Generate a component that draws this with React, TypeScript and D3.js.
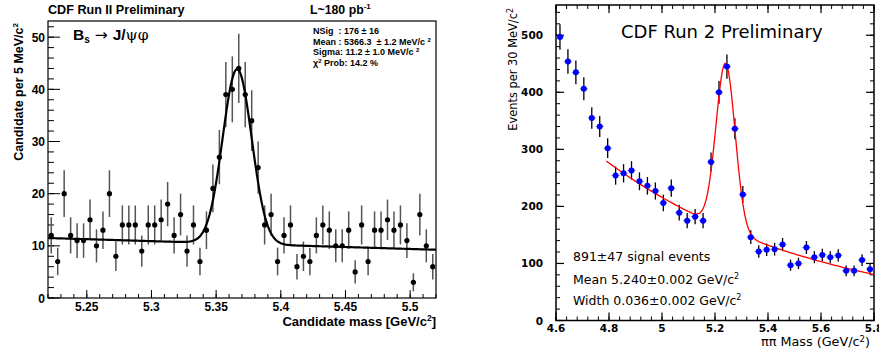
import React from "react";
import * as d3 from "d3";

// ---------- Left panel data (Bs -> J/psi phi), 5 MeV bins from 5.22 to 5.52 ----------
const leftRange = [5.22, 5.52];
const leftBinWidth = 0.005;
const leftCounts = [
  12, 7, 20, 12, 11, 11, 15, 10, 13, 20,
  8, 14, 14, 14, 9, 14, 14, 15, 18, 12,
  16, 9, 14, 7, 13, 21, 27, 39, 40, 44,
  39, 34, 25, 14, 16, 7, 12, 14, 6, 8,
  7, 12, 14, 13, 10, 10, 13, 5, 14, 7,
  13, 13, 15, 13, 14, 11, 3, 16, 10, 6,
];
const leftXTicks = [5.25, 5.3, 5.35, 5.4, 5.45, 5.5];
const leftXTickLabels = ["5.25", "5.3", "5.35", "5.4", "5.45", "5.5"];
const leftYTicks = [0, 10, 20, 30, 40, 50];
const leftFit = { bg0: 11.5, slope: -7.5, amp: 33.5, mean: 5.3663, sigma: 0.0112 };
const leftStats = [
  "NSig  : 176 \u00b1 16",
  "Mean : 5366.3  \u00b1 1.2 MeV/c ",
  "Sigma: 11.2 \u00b1 1.0 MeV/c ",
];

// ---------- Right panel data (pi pi mass), 30 MeV bins from 4.6 to 5.8 ----------
const rightRange = [4.6, 5.8];
const rightBinWidth = 0.03;
const rightCounts = [
  497, 454, 435, 406, 355, 340, 302, 254, 258, 263,
  244, 236, 227, 206, 232, 189, 175, 182, 175, 278,
  400, 445, 336, 221, 146, 121, 124, 125, 133, 97,
  100, 128, 111, 115, 111, 114, 87, 87, 106, 90,
];
const rightXTicks = [4.6, 4.8, 5.0, 5.2, 5.4, 5.6, 5.8];
const rightXTickLabels = ["4.6", "4.8", "5", "5.2", "5.4", "5.6", "5.8"];
const rightYTicks = [0, 100, 200, 300, 400, 500];
const rightFit = { n0: 276, x0: 4.8, k: 1.23, amp: 290, mean: 5.24, sigma: 0.036, from: 4.79 };

const HELV = "'Liberation Sans', Arial, Helvetica, sans-serif";
const AVG = "'DejaVu Sans', 'Noto Sans', sans-serif";

function range(a: number, b: number, step: number) {
  const out: number[] = [];
  const n = Math.round((b - a) / step);
  for (let i = 0; i <= n; i++) out.push(+(a + i * step).toFixed(6));
  return out;
}

function LeftPanel() {
  const x = d3.scaleLinear().domain(leftRange).range([48, 436]);
  const y = d3.scaleLinear().domain([0, 53.1]).range([298, 21]);
  const centers = leftCounts.map((_, i) => leftRange[0] + (i + 0.5) * leftBinWidth);
  const fitPts = d3.range(0, 301).map((i) => {
    const xv = leftRange[0] + (i / 300) * (leftRange[1] - leftRange[0]);
    const v =
      leftFit.bg0 + leftFit.slope * (xv - leftRange[0]) +
      leftFit.amp * Math.exp(-0.5 * Math.pow((xv - leftFit.mean) / leftFit.sigma, 2));
    return [xv, v] as [number, number];
  });
  const line = d3.line<[number, number]>().x((d) => x(d[0])).y((d) => y(d[1]));
  const minorX = range(5.22, 5.52, 0.01);
  const minorY = range(0, 52, 2);
  return (
    <g>
      <text x={48} y={14} fontFamily={HELV} fontWeight="bold" fontSize={12.6}>CDF Run II Preliminary</text>
      <text x={310} y={14} fontFamily={HELV} fontWeight="bold" fontSize={12.3}>
        L~180 pb<tspan dy={-5} fontSize={8}>-1</tspan>
      </text>
      {/* frame */}
      <rect x={48} y={21} width={388} height={277} fill="none" stroke="#000" strokeWidth={1.2} />
      {/* x ticks */}
      {minorX.map((t) => (
        <line key={"mx" + t} x1={x(t)} x2={x(t)} y1={298} y2={294} stroke="#000" strokeWidth={1} />
      ))}
      {leftXTicks.map((t, i) => (
        <g key={"x" + t}>
          <line x1={x(t)} x2={x(t)} y1={298} y2={290} stroke="#000" strokeWidth={1} />
          <text x={x(t)} y={311} textAnchor="middle" fontFamily={HELV} fontWeight="bold" fontSize={12}>
            {leftXTickLabels[i]}
          </text>
        </g>
      ))}
      {minorY.map((t) => (
        <line key={"my" + t} x1={48} x2={54} y1={y(t)} y2={y(t)} stroke="#000" strokeWidth={1} />
      ))}
      {leftYTicks.map((t) => (
        <g key={"y" + t}>
          <line x1={48} x2={60} y1={y(t)} y2={y(t)} stroke="#000" strokeWidth={1} />
          <text x={45} y={y(t) + 4.5} textAnchor="end" fontFamily={HELV} fontWeight="bold" fontSize={12}>
            {t}
          </text>
        </g>
      ))}
      <text x={436} y={326} textAnchor="end" fontFamily={HELV} fontWeight="bold" fontSize={13}>
        Candidate mass [GeV/c<tspan dy={-5} fontSize={8.5}>2</tspan><tspan dy={5}>]</tspan>
      </text>
      <text transform="translate(23,23) rotate(-90)" textAnchor="end" fontFamily={HELV} fontWeight="bold" fontSize={12.5}>
        Candidate per 5 MeV/c<tspan dy={-5} fontSize={8}>2</tspan>
      </text>
      {/* error bars */}
      {leftCounts.map((c, i) => {
        const e = Math.sqrt(c);
        return (
          <line key={"e" + i} x1={x(centers[i])} x2={x(centers[i])} y1={y(c - e)} y2={Math.max(21, y(c + e))}
            stroke="#555" strokeWidth={1.5} />
        );
      })}
      <path d={line(fitPts) || ""} fill="none" stroke="#000" strokeWidth={2.2} />
      {leftCounts.map((c, i) => (
        <circle key={"p" + i} cx={x(centers[i])} cy={y(c)} r={2.6} fill="#000" />
      ))}
      <text x={73} y={40} fontFamily={HELV} fontWeight="bold" fontSize={15.5}>
        B<tspan dy={3} fontSize={10}>s</tspan><tspan dy={-3} fontWeight="normal" fontFamily="'DejaVu Sans', sans-serif"> {"\u2192"} </tspan>J/<tspan fontWeight="normal" fontFamily="'DejaVu Serif', serif">{"\u03c8\u03c6"}</tspan>
      </text>
      {leftStats.map((s, i) => (
        <text key={"s" + i} x={313} y={34 + i * 10.6} fontFamily={HELV} fontWeight="bold" fontSize={9} style={{ whiteSpace: "pre" }}>
          {s}
          {i > 0 ? <tspan dy={-3} fontSize={6}>2</tspan> : null}
        </text>
      ))}
      <text x={313} y={66} fontFamily={HELV} fontWeight="bold" fontSize={9} style={{ whiteSpace: "pre" }}>
        {"\u03c7"}<tspan dy={-3} fontSize={6}>2</tspan><tspan dy={3}>{" Prob: 14.2 %"}</tspan>
      </text>
    </g>
  );
}

function RightPanel() {
  const x = d3.scaleLinear().domain(rightRange).range([556, 874]);
  const y = d3.scaleLinear().domain([0, 553]).range([320.5, 5]);
  const centers = rightCounts.map((_, i) => rightRange[0] + (i + 0.5) * rightBinWidth);
  const fitPts = d3.range(0, 301).map((i) => {
    const xv = rightFit.from + (i / 300) * (rightRange[1] - rightFit.from);
    const v =
      rightFit.n0 * Math.exp(-rightFit.k * (xv - rightFit.x0)) +
      rightFit.amp * Math.exp(-0.5 * Math.pow((xv - rightFit.mean) / rightFit.sigma, 2));
    return [xv, v] as [number, number];
  });
  const line = d3.line<[number, number]>().x((d) => x(d[0])).y((d) => y(d[1]));
  const minorX = range(4.6, 5.8, 0.04);
  const minorY = range(0, 540, 20);
  const L = 556, R = 874, T = 5, B = 320.5;
  const hw = (x(rightBinWidth) - x(0)) / 2;
  return (
    <g>
      <rect x={L} y={T} width={R - L} height={B - T} fill="none" stroke="#000" strokeWidth={1.5} />
      {minorX.map((t) => (
        <g key={"mx" + t}>
          <line x1={x(t)} x2={x(t)} y1={B} y2={B - 4} stroke="#000" strokeWidth={1} />
          <line x1={x(t)} x2={x(t)} y1={T} y2={T + 4} stroke="#000" strokeWidth={1} />
        </g>
      ))}
      {rightXTicks.map((t, i) => (
        <g key={"x" + t}>
          <line x1={x(t)} x2={x(t)} y1={B} y2={B - 8} stroke="#000" strokeWidth={1.2} />
          <line x1={x(t)} x2={x(t)} y1={T} y2={T + 8} stroke="#000" strokeWidth={1.2} />
          <text x={x(t)} y={332} textAnchor="middle" fontFamily={AVG} fontSize={10.5} fontWeight="bold">
            {rightXTickLabels[i]}
          </text>
        </g>
      ))}
      {minorY.map((t) => (
        <g key={"my" + t}>
          <line x1={L} x2={L + 4} y1={y(t)} y2={y(t)} stroke="#000" strokeWidth={1} />
          <line x1={R} x2={R - 4} y1={y(t)} y2={y(t)} stroke="#000" strokeWidth={1} />
        </g>
      ))}
      {rightYTicks.map((t) => (
        <g key={"y" + t}>
          <line x1={L} x2={L + 8} y1={y(t)} y2={y(t)} stroke="#000" strokeWidth={1.2} />
          <line x1={R} x2={R - 8} y1={y(t)} y2={y(t)} stroke="#000" strokeWidth={1.2} />
          <text x={543} y={y(t) + 4} textAnchor="end" fontFamily={AVG} fontSize={10.5} fontWeight="bold">
            {t}
          </text>
        </g>
      ))}
      <text x={870} y={346} textAnchor="end" fontFamily={AVG} fontSize={12.8}>
        {"\u03c0\u03c0 Mass (GeV/c"}<tspan dy={-4} fontSize={8.5}>2</tspan><tspan dy={4}>)</tspan>
      </text>
      <text transform="translate(517,8) rotate(-90)" textAnchor="end" fontFamily={AVG} fontSize={11.4}>
        Events per 30 MeV/c<tspan dy={-4} fontSize={8}>2</tspan>
      </text>
      <text x={621} y={38} fontFamily={AVG} fontSize={18}>CDF Run 2 Preliminary</text>
      {rightCounts.map((c, i) => {
        const e = Math.sqrt(c);
        const cx = x(centers[i]);
        return (
          <g key={"e" + i}>
            <line x1={cx} x2={cx} y1={y(c - e)} y2={y(c + e)} stroke="#000" strokeWidth={1.3} />
            <line x1={cx - hw} x2={cx + hw} y1={y(c)} y2={y(c)} stroke="#6677bb" strokeWidth={1} />
          </g>
        );
      })}
      <path d={line(fitPts) || ""} fill="none" stroke="#ff0000" strokeWidth={1.3} />
      {rightCounts.map((c, i) => (
        <circle key={"p" + i} cx={x(centers[i])} cy={y(c)} r={3} fill="#0000ff" />
      ))}
      <text x={573} y={261} fontFamily={AVG} fontSize={12.5}>891{"\u00b1"}47 signal events</text>
      <text x={573} y={284} fontFamily={AVG} fontSize={12.5}>
        Mean 5.240{"\u00b1"}0.002 GeV/c<tspan dy={-5} fontSize={8}>2</tspan>
      </text>
      <text x={573} y={305} fontFamily={AVG} fontSize={12.5}>
        Width 0.036{"\u00b1"}0.002 GeV/c<tspan dy={-5} fontSize={8}>2</tspan>
      </text>
    </g>
  );
}

export default function App() {
  return (
    <svg width={879} height={354} viewBox="0 0 879 354"
      style={{ position: "absolute", left: 0, top: 0, background: "#fff" }}>
      <rect x={0} y={0} width={879} height={354} fill="#fff" />
      <LeftPanel />
      <RightPanel />
    </svg>
  );
}
